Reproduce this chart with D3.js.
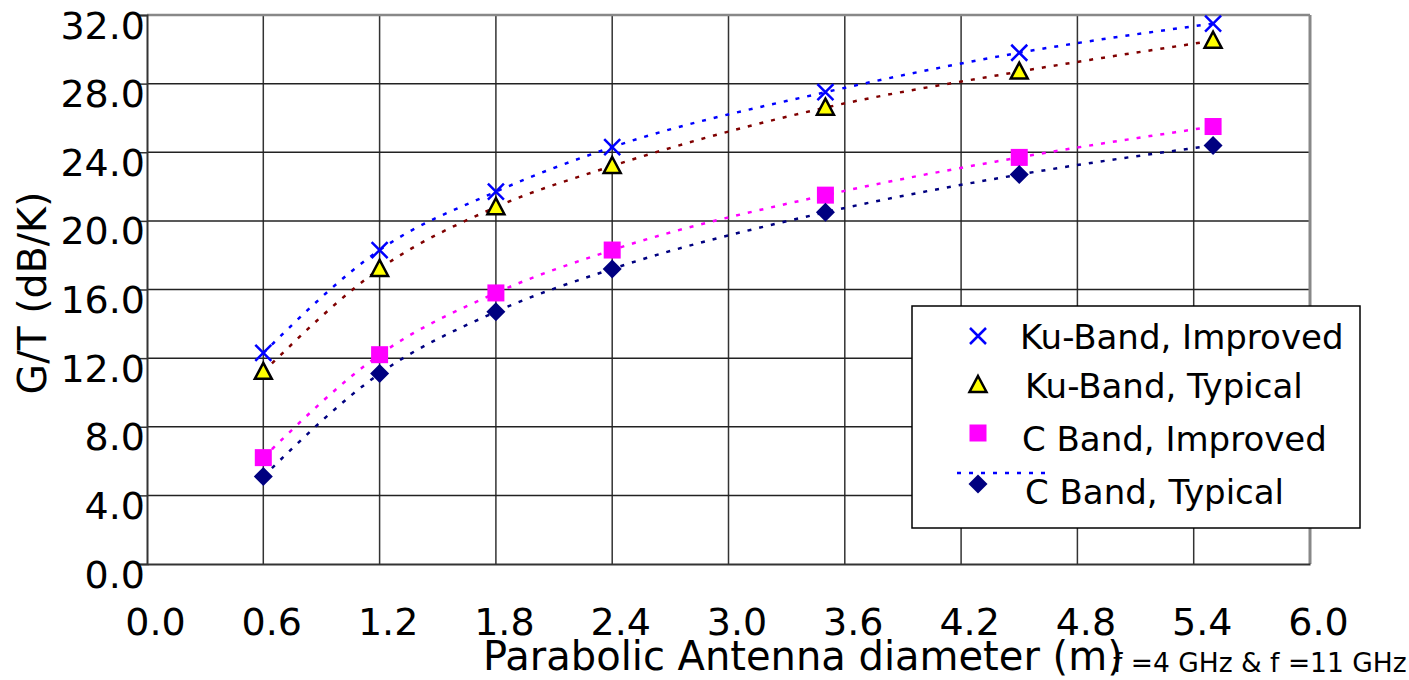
<!DOCTYPE html>
<html>
<head>
<meta charset="utf-8">
<script src="https://cdn.jsdelivr.net/npm/d3@7"></script>
<style>
  body { margin: 0; background: #fff; }
  text { font-family: "DejaVu Sans", sans-serif; fill: #000; }
</style>
</head>
<body>
<div id="chart"></div>
<script>
// diameters (m)
var diameters = [0.6, 1.2, 1.8, 2.4, 3.5, 4.5, 5.5];
// G/T values (dB/K)
var kuImproved = [12.3, 18.3, 21.7, 24.3, 27.5, 29.8, 31.5];
var kuTypical  = [11.2, 17.2, 20.8, 23.2, 26.6, 28.7, 30.5];
var cImproved  = [6.2, 12.2, 15.8, 18.3, 21.5, 23.7, 25.5];
var cTypical   = [5.1, 11.1, 14.7, 17.2, 20.5, 22.7, 24.4];

var xTicks = [0.0, 0.6, 1.2, 1.8, 2.4, 3.0, 3.6, 4.2, 4.8, 5.4, 6.0];
var yTicks = [0, 4, 8, 12, 16, 20, 24, 28, 32];

var seriesNames = ["Ku-Band, Improved", "Ku-Band, Typical", "C Band, Improved", "C Band, Typical"];

var margin = {top: 15, right: 99, bottom: 116, left: 147};
var width = 1409 - margin.left - margin.right,
    height = 680 - margin.top - margin.bottom;

var svg = d3.select("#chart")
    .append("svg")
    .attr("width", 1409)
    .attr("height", 680)
    .append("g")
    .attr("transform", "translate(" + margin.left + "," + margin.top + ")");

var x = d3.scaleLinear().domain([0, 6]).range([0, width]);
var y = d3.scaleLinear().domain([0, 32]).range([height, 0]);

// grid
svg.append("g")
    .selectAll("line")
    .data(xTicks.slice(1, -1))
    .enter()
    .append("line")
    .attr("x1", function (d) { return x(d); })
    .attr("x2", function (d) { return x(d); })
    .attr("y1", 0)
    .attr("y2", height)
    .style("stroke", "#333")
    .style("stroke-width", 1.5);

svg.append("g")
    .selectAll("line")
    .data(yTicks.slice(1, -1))
    .enter()
    .append("line")
    .attr("x1", 0)
    .attr("x2", width)
    .attr("y1", function (d) { return y(d); })
    .attr("y2", function (d) { return y(d); })
    .style("stroke", "#222")
    .style("stroke-width", 1.5);

// top / right border
svg.append("line")
    .attr("x1", 0).attr("x2", width).attr("y1", 0).attr("y2", 0)
    .style("stroke", "#888").style("stroke-width", 2.5);
svg.append("line")
    .attr("x1", width).attr("x2", width).attr("y1", 0).attr("y2", height)
    .style("stroke", "#888").style("stroke-width", 3);

// Y axis
var yAxis = svg.append("g")
    .call(d3.axisLeft(y).tickValues(yTicks).tickSize(10).tickFormat(d3.format(".1f")));
yAxis.select(".domain").style("stroke", "#333").style("stroke-width", 2);
yAxis.selectAll(".tick line").style("stroke", "#333").style("stroke-width", 1.5);
yAxis.selectAll(".tick text")
    .attr("x", -2)
    .attr("dy", "0.95em")
    .attr("y", -13)
    .style("font-size", "38px")
    .style("font-family", "DejaVu Sans");

// X axis
var xAxis = svg.append("g")
    .attr("transform", "translate(0," + height + ")")
    .call(d3.axisBottom(x).tickValues(xTicks).tickSize(0).tickFormat(d3.format(".1f")));
xAxis.select(".domain").style("stroke", "#333").style("stroke-width", 2);
xAxis.selectAll(".tick text")
    .attr("x", 8)
    .attr("y", 71)
    .attr("dy", 0)
    .style("font-size", "38px")
    .style("font-family", "DejaVu Sans");

// lines and markers
var series = [
    {name: seriesNames[0], values: kuImproved, line: "#0000ff", shape: "cross"},
    {name: seriesNames[1], values: kuTypical, line: "#800000", shape: "triangle"},
    {name: seriesNames[2], values: cImproved, line: "#ff00ff", shape: "square"},
    {name: seriesNames[3], values: cTypical, line: "#000080", shape: "diamond"}
];

var line = d3.line()
    .x(function (d) { return x(d[0]); })
    .y(function (d) { return y(d[1]); })
    .curve(d3.curveMonotoneX);

series.forEach(function (s) {
    svg.append("path")
        .datum(diameters.map(function (d, i) { return [d, s.values[i]]; }))
        .attr("d", line)
        .style("fill", "none")
        .style("stroke", s.line)
        .style("stroke-width", 2.5)
        .style("stroke-dasharray", "4,8");
});

function drawMarker(g, shape, cx, cy) {
    if (shape === "cross") {
        g.append("path")
            .attr("d", "M" + (cx - 8) + "," + (cy - 8) + "L" + (cx + 8) + "," + (cy + 8) +
                "M" + (cx - 8) + "," + (cy + 8) + "L" + (cx + 8) + "," + (cy - 8))
            .style("stroke", "#0000ff")
            .style("stroke-width", 2.5)
            .style("fill", "none");
    } else if (shape === "triangle") {
        g.append("path")
            .attr("d", "M" + cx + "," + (cy - 9) + "L" + (cx + 8.5) + "," + (cy + 7) +
                "L" + (cx - 8.5) + "," + (cy + 7) + "Z")
            .style("fill", "#ffff00")
            .style("stroke", "#000")
            .style("stroke-width", 2.5);
    } else if (shape === "square") {
        g.append("rect")
            .attr("x", cx - 8.5).attr("y", cy - 8.5)
            .attr("width", 17).attr("height", 17)
            .style("fill", "#ff00ff");
    } else {
        g.append("path")
            .attr("d", "M" + cx + "," + (cy - 9.5) + "L" + (cx + 9.5) + "," + cy +
                "L" + cx + "," + (cy + 9.5) + "L" + (cx - 9.5) + "," + cy + "Z")
            .style("fill", "#000080");
    }
}

var markers = svg.append("g");
series.forEach(function (s) {
    diameters.forEach(function (d, i) {
        drawMarker(markers, s.shape, x(d), y(s.values[i]));
    });
});

// axis titles
svg.append("text")
    .attr("transform", "rotate(-90)")
    .attr("x", -278)
    .attr("y", -101)
    .style("text-anchor", "middle")
    .style("font-size", "39.5px")
    .text("G/T (dB/K)");

svg.append("text")
    .attr("x", 336)
    .attr("y", 655)
    .style("font-size", "40px")
    .text("Parabolic Antenna diameter (m)");

svg.append("text")
    .attr("x", 966)
    .attr("y", 657)
    .style("font-size", "26.5px")
    .text("f =4 GHz & f =11 GHz");

// legend
var legend = svg.append("g")
    .attr("class", "legend")
    .attr("transform", "translate(" + (912 - margin.left) + "," + (306 - margin.top) + ")");

legend.append("rect")
    .attr("width", 448)
    .attr("height", 222)
    .style("fill", "#fff")
    .style("stroke", "#000")
    .style("stroke-width", 1.5);

var legendRows = [30, 79, 127, 178];
var legendTextX = [108, 113, 110, 113];
var legendTextY = [43, 92, 145, 198];

legend.append("line")
    .attr("x1", 45).attr("x2", 135)
    .attr("y1", 167).attr("y2", 167)
    .style("stroke", "#0000ff")
    .style("stroke-width", 2.5)
    .style("stroke-dasharray", "4,8");

series.forEach(function (s, i) {
    drawMarker(legend, s.shape, 66, legendRows[i]);
    legend.append("text")
        .attr("x", legendTextX[i])
        .attr("y", legendTextY[i])
        .style("font-size", "34px")
        .text(s.name);
});
</script>
</body>
</html>
